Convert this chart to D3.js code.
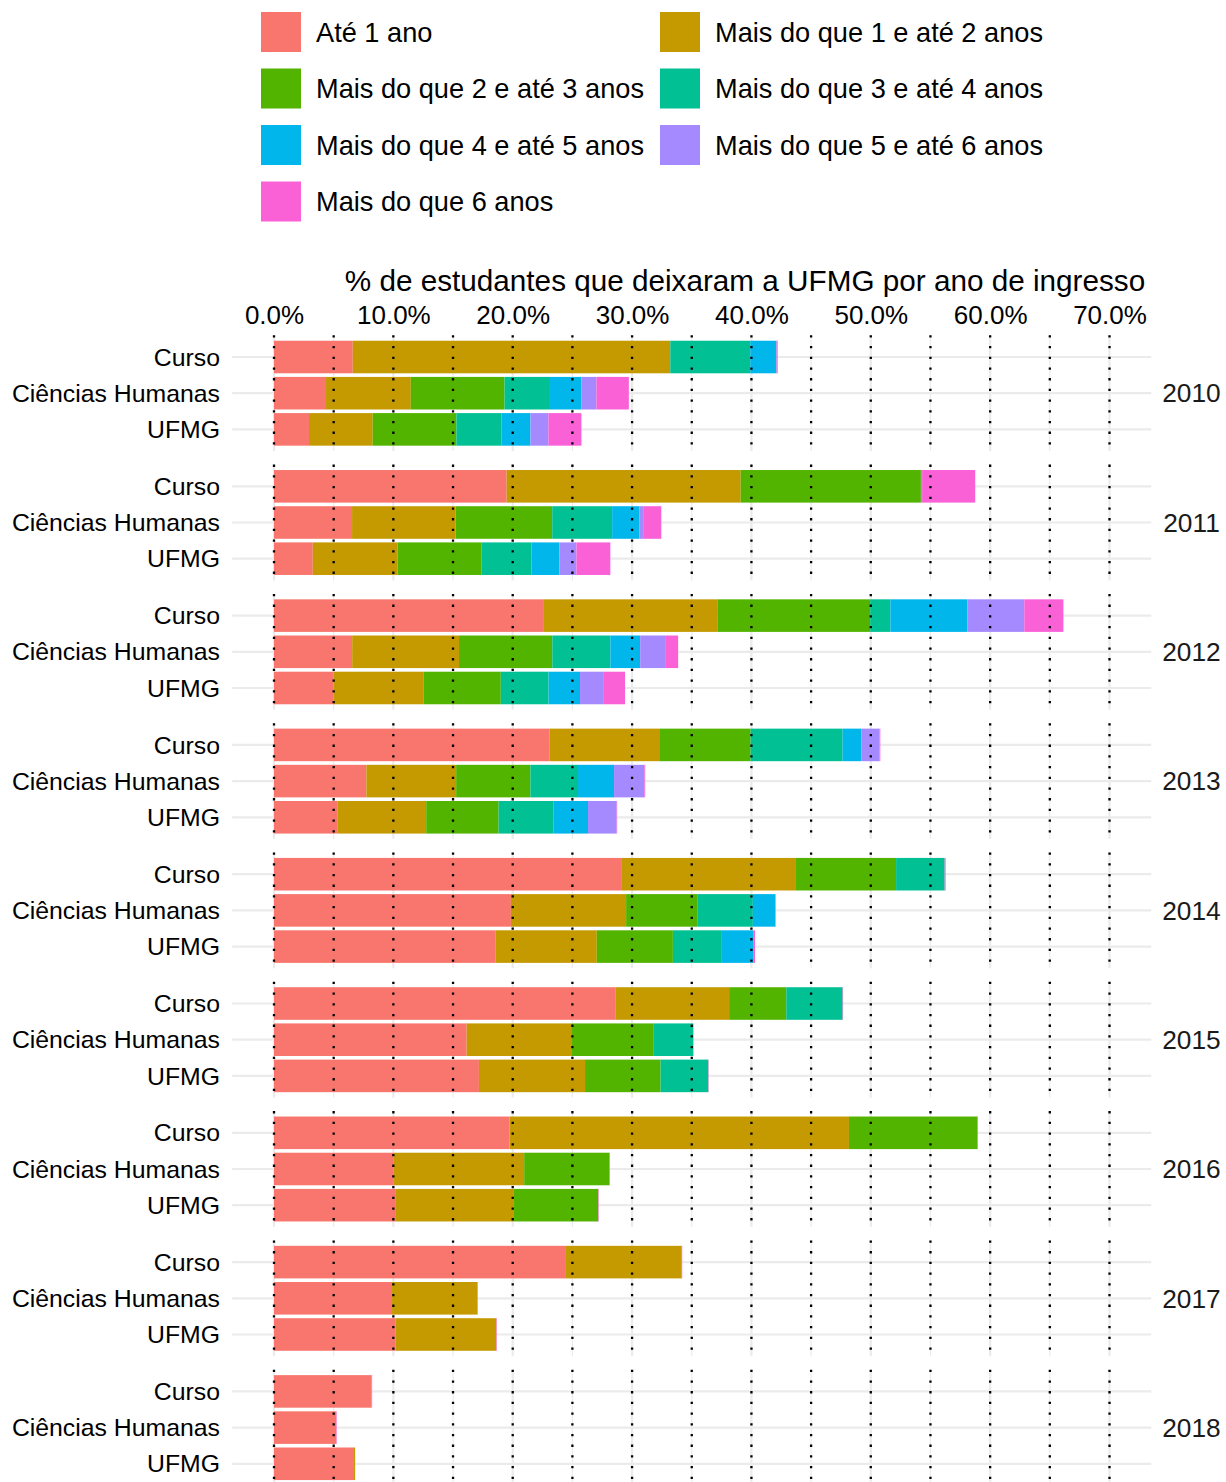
<!DOCTYPE html>
<html>
<head>
<meta charset="utf-8">
<script src="https://cdn.jsdelivr.net/npm/d3@7"></script>
<style>
  html, body { margin: 0; padding: 0; background: #fff; }
  svg { display: block; font-family: "Liberation Sans", Arial, Helvetica, sans-serif; }
</style>
</head>
<body>
<svg id="chart" width="1226" height="1482"></svg>
<script>
// ---- data ----
const years = ["2010", "2011", "2012", "2013", "2014", "2015", "2016", "2017", "2018"];
const groups = ["Curso", "Ciências Humanas", "UFMG"];
const categories = [
  "Até 1 ano",
  "Mais do que 1 e até 2 anos",
  "Mais do que 2 e até 3 anos",
  "Mais do que 3 e até 4 anos",
  "Mais do que 4 e até 5 anos",
  "Mais do que 5 e até 6 anos",
  "Mais do que 6 anos"
];
const colors = ["#F8766D", "#C49A00", "#53B400", "#00C094", "#00B6EB", "#A58AFF", "#FB61D7"];
const xTicks = [0, 10, 20, 30, 40, 50, 60, 70];
const dottedLines = [0, 5, 10, 15, 20, 25, 30, 35, 40, 45, 50, 55, 60, 65, 70];
const axisTitle = "% de estudantes que deixaram a UFMG por ano de ingresso";

// values in % ; order per year: Curso, Ciências Humanas, UFMG
const ate1  = [6.6, 4.36, 2.93, 19.49, 6.54, 3.25, 22.55, 6.55, 5.0, 23.07, 7.74, 5.3, 29.15, 19.85, 18.58, 28.59, 16.14, 17.17, 19.74, 9.99, 10.15, 24.39, 9.89, 10.2, 8.18, 5.22, 6.7];
const de1a2 = [26.6, 7.10, 5.34, 19.61, 8.68, 7.11, 14.59, 8.95, 7.55, 9.27, 7.52, 7.45, 14.58, 9.65, 8.46, 9.54, 8.76, 8.89, 28.43, 10.97, 9.95, 9.77, 7.15, 8.43, 0, 0, 0.1];
const de2a3 = [0, 7.85, 7.01, 15.1, 8.09, 7.04, 12.81, 7.82, 6.45, 7.59, 6.22, 6.07, 8.39, 5.96, 6.38, 4.79, 6.87, 6.33, 10.77, 7.15, 7.07, 0, 0, 0, 0, 0, 0];
const de3a4 = [6.7, 3.73, 3.79, 0, 5.02, 4.18, 1.69, 4.86, 4.0, 7.71, 3.99, 4.58, 4.07, 4.66, 4.04, 4.72, 3.35, 4.0, 0, 0, 0, 0, 0, 0, 0, 0, 0];
const de4a5 = [2.2, 2.72, 2.42, 0, 2.27, 2.33, 6.45, 2.5, 2.64, 1.56, 3.02, 2.91, 0, 1.88, 2.73, 0, 0, 0, 0, 0, 0, 0, 0, 0, 0, 0, 0];
const de5a6 = [0, 1.25, 1.50, 0.1, 0.39, 1.43, 4.77, 2.09, 2.0, 1.53, 2.54, 2.4, 0, 0, 0, 0, 0, 0, 0, 0, 0, 0, 0, 0, 0, 0, 0];
const mais6 = [0.1, 2.72, 2.77, 4.45, 1.46, 2.84, 3.28, 1.09, 1.77, 0.07, 0.07, 0.04, 0.08, 0.04, 0.11, 0.04, 0.03, 0.03, 0.04, 0.04, 0.04, 0.04, 0.04, 0.04, 0.04, 0.04, 0];
const series = [ate1, de1a2, de2a3, de3a4, de4a5, de5a6, mais6];

// ---- build table ----
const rows = [];
years.forEach((yr, yi) => {
  groups.forEach((g, gi) => {
    const idx = yi * groups.length + gi;
    const row = { year: yr, group: g };
    categories.forEach((c, ci) => { row[c] = series[ci][idx]; });
    rows.push(row);
  });
});
const stacked = d3.stack().keys(categories)(rows);

// ---- layout ----
const svg = d3.select("#chart");
const x = d3.scaleLinear().domain([0, 70]).range([274, 1109.5]);
const panelLeft = x(-3.5), panelRight = x(73.5);
const facetStep = 129.3;
const firstTop = 335.3;
const panelH = 115.8;
const color = d3.scaleOrdinal().domain(categories).range(colors);

function yScale(yi) {
  const top = firstTop + yi * facetStep;
  return d3.scalePoint().domain(groups).range([top, top + panelH]).padding(0.6);
}

// ---- legend ----
const legend = svg.append("g");
const legCols = [261, 660];
const legRowY = [32, 88.5, 145, 201.5];
categories.forEach((c, i) => {
  const col = i % 2, r = Math.floor(i / 2);
  const gx = legCols[col], gy = legRowY[r];
  legend.append("rect").attr("x", gx).attr("y", gy - 20).attr("width", 40).attr("height", 40).attr("fill", color(c));
  legend.append("text").attr("x", gx + 55).attr("y", gy).attr("dy", "0.35em")
    .attr("font-size", 27.2).attr("fill", "#000").text(c);
});

// ---- axis title & top axis ----
svg.append("text").attr("x", 745).attr("y", 291).attr("text-anchor", "middle")
  .attr("font-size", 29.7).attr("fill", "#000").text(axisTitle);

const axis = svg.append("g").attr("transform", "translate(0,333)")
  .call(d3.axisTop(x).tickValues(xTicks).tickSize(0).tickPadding(9)
    .tickFormat(d => d3.format(".1%")(d / 100)));
axis.select(".domain").remove();
axis.selectAll("text").attr("font-size", 26).attr("fill", "#000")
  .attr("font-family", "Liberation Sans, Arial, sans-serif");

// ---- facets ----
years.forEach((yr, yi) => {
  const y = yScale(yi);
  const step = y.step();
  const top = firstTop + yi * facetStep;
  const g = svg.append("g");

  // grid
  g.selectAll("line.hg").data(groups).join("line")
    .attr("x1", panelLeft).attr("x2", panelRight)
    .attr("y1", d => y(d)).attr("y2", d => y(d))
    .attr("stroke", "#ebebeb").attr("stroke-width", 2.2);
  g.selectAll("line.vg").data(dottedLines).join("line")
    .attr("x1", d => x(d)).attr("x2", d => x(d))
    .attr("y1", top).attr("y2", top + panelH)
    .attr("stroke", "#ebebeb").attr("stroke-width", d => d % 10 === 0 ? 2.2 : 1.2);

  // row labels
  g.selectAll("text.rl").data(groups).join("text")
    .attr("x", 220).attr("y", d => y(d)).attr("dy", "0.35em")
    .attr("text-anchor", "end").attr("font-size", 24.8).attr("fill", "#000")
    .text(d => d);

  // bars
  stacked.forEach((layer, ci) => {
    const segs = layer.filter(d => d.data.year === yr);
    g.selectAll("rect.s" + ci).data(segs).join("rect")
      .attr("x", d => x(d[0]))
      .attr("width", d => Math.max(0, x(d[1]) - x(d[0])))
      .attr("y", d => y(d.data.group) - step * 0.45)
      .attr("height", step * 0.9)
      .attr("fill", colors[ci]);
  });

  // dotted vlines
  g.selectAll("line.dl").data(dottedLines).join("line")
    .attr("x1", d => x(d)).attr("x2", d => x(d))
    .attr("y1", top).attr("y2", top + panelH)
    .attr("stroke", "#000").attr("stroke-width", 2.3)
    .attr("stroke-dasharray", "2.3 8.4");

  // strip label
  g.append("text").attr("x", 1191.5).attr("y", y(groups[1])).attr("dy", "0.35em")
    .attr("text-anchor", "middle").attr("font-size", 26.3).attr("fill", "#1a1a1a")
    .text(yr);
});
</script>
</body>
</html>
